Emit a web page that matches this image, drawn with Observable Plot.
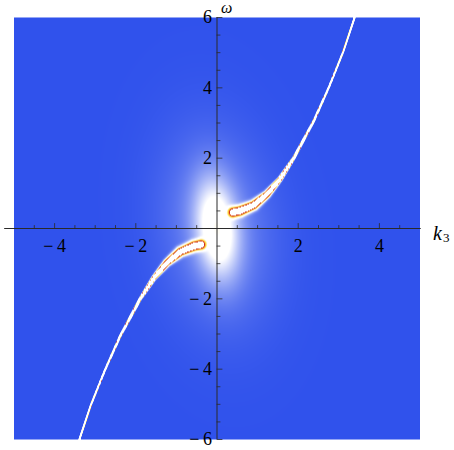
<!DOCTYPE html>
<html>
<head>
<meta charset="utf-8">
<script src="https://cdn.jsdelivr.net/npm/d3@7"></script>
<script src="https://cdn.jsdelivr.net/npm/@observablehq/plot@0.6"></script>
<style>
  body { margin: 0; background: #fff; }
  #chart svg { display: block; }
  #chart svg text { font-family: "Liberation Serif", "Times New Roman", serif; }
</style>
</head>
<body>
<div id="chart"></div>
<script>
// Plot window
const kDomain = [-5, 5];
const omegaDomain = [-6, 6];

// Quasiparticle ridge of the spectral function A(k3, ω), upper branch
// (the lower branch is its mirror image through the origin).
const ridgeK     = [0.40, 0.57, 0.90, 1.23, 1.55, 1.89, 2.38, 2.75, 3.10, 3.39, 3.60];
const ridgeOmega = [0.46, 0.50, 0.66, 0.97, 1.40, 2.00, 3.05, 4.00, 5.00, 6.00, 6.70];
// peak height of the ridge and its width (in screen pixels)
const ridgePeak  = [1.4, 1.55, 1.6, 1.9, 3.0, 5.0, 10, 20, 20, 20, 20];
const ridgeWidth = [3.0, 3.0, 2.7, 1.9, 1.1, 0.62, 0.45, 0.35, 0.34, 0.33, 0.33];

// incoherent background around the origin: [amplitude, k width, ω width]
const hazeCore  = [0.33, 0.50, 1.35];
const hazeOuter = [0.10, 1.30, 2.60];

// intensity → colour
const levelStops = [0, 0.30, 0.42, 0.58, 0.74, 0.88, 1.0, 1.0001, 1000];
const levelColors = ["#3052ec", "#ffffff", "#ffffff", "#ffe24a", "#f39a30", "#d2321f", "#c42a22", "#ffffff", "#ffffff"];

// axes
const xTickValues = [-4, -2, 2, 4];
const xTickLabels = ["\u2212\u20094", "\u2212\u20092", "2", "4"];
const yTickValues = [-6, -4, -2, 2, 4, 6];
const yTickLabels = ["\u2212\u20096", "\u2212\u20094", "\u2212\u20092", "2", "4", "6"];
const minorStep = 0.5;

const W = 454, H = 450;
const margin = {top: 17, right: 34.5, bottom: 11, left: 13.5};
const pxPerK = (W - margin.left - margin.right) / (kDomain[1] - kDomain[0]);
const pxPerOmega = (H - margin.top - margin.bottom) / (omegaDomain[1] - omegaDomain[0]);

// ridge profile: Gaussian in the screen distance d to the ridge line
function ridgeValue(k, w, sign) {
  let best = 0;
  const px = k * pxPerK, py = w * pxPerOmega;
  for (let i = 0; i < ridgeK.length - 1; i++) {
    const ax = sign * ridgeK[i] * pxPerK, ay = sign * ridgeOmega[i] * pxPerOmega;
    const bx = sign * ridgeK[i + 1] * pxPerK, by = sign * ridgeOmega[i + 1] * pxPerOmega;
    const dx = bx - ax, dy = by - ay;
    let t = ((px - ax) * dx + (py - ay) * dy) / (dx * dx + dy * dy);
    t = Math.max(0, Math.min(1, t));
    const ex = px - (ax + t * dx), ey = py - (ay + t * dy);
    const s = ridgeWidth[i] + t * (ridgeWidth[i + 1] - ridgeWidth[i]);
    const pk = ridgePeak[i] + t * (ridgePeak[i + 1] - ridgePeak[i]);
    const v = pk * Math.exp(-(ex * ex + ey * ey) / (2 * s * s));
    if (v > best) best = v;
  }
  return best;
}

function haze(k, w, [a, sk, sw]) {
  const kk = (k + 0.08 * w) / sk;
  const ww = w / sw;
  return a * Math.exp(-(kk * kk) - (ww * ww));
}

function intensity(k, w) {
  return ridgeValue(k, w, 1) + ridgeValue(k, w, -1) + haze(k, w, hazeCore) + haze(k, w, hazeOuter);
}

// tick marks drawn as short strokes from the axis
const tickShape = {
  draw(context, length) {
    context.moveTo(0, 0);
    context.lineTo(0, -length);
  }
};

const xMinor = d3.range(-4.5, 4.51, minorStep).filter(v => Math.abs(v) > 1e-9 && Math.abs(v % 2) > 1e-9);
const xMajor = xTickValues;
const yMinor = d3.range(-5.5, 5.51, minorStep).filter(v => Math.abs(v) > 1e-9 && Math.abs(v % 2) > 1e-9);
const yMajor = yTickValues;

const axisColor = "#2a2a2a";
const serif = "Liberation Serif";

const chart = Plot.plot({
  width: W,
  height: H,
  marginTop: margin.top,
  marginRight: margin.right,
  marginBottom: margin.bottom,
  marginLeft: margin.left,
  x: {domain: kDomain, axis: null},
  y: {domain: omegaDomain, axis: null},
  color: {type: "linear", domain: levelStops, range: levelColors, interpolate: "rgb", clamp: true},
  style: {background: "white", fontFamily: serif, overflow: "visible"},
  marks: [
    Plot.raster({x1: kDomain[0], x2: kDomain[1], y1: omegaDomain[0], y2: omegaDomain[1], fill: intensity, pixelSize: 1}),
    Plot.ruleY([0], {x1: -5.23, x2: 5.03, stroke: axisColor, strokeWidth: 1}),
    Plot.ruleX([0], {y1: omegaDomain[0], y2: omegaDomain[1], stroke: axisColor, strokeWidth: 1}),
    Plot.vector(xMinor, {x: d => d, y: 0, length: 3, rotate: 0, anchor: "start", shape: tickShape, stroke: axisColor, strokeWidth: 0.8}),
    Plot.vector(xMajor, {x: d => d, y: 0, length: 5, rotate: 0, anchor: "start", shape: tickShape, stroke: axisColor, strokeWidth: 0.8}),
    Plot.vector(yMinor, {x: 0, y: d => d, length: 3, rotate: 90, anchor: "start", shape: tickShape, stroke: axisColor, strokeWidth: 0.8}),
    Plot.vector(yMajor, {x: 0, y: d => d, length: 5, rotate: 90, anchor: "start", shape: tickShape, stroke: axisColor, strokeWidth: 0.8}),
    Plot.text(xTickValues, {x: d => d, y: 0, text: (d, i) => xTickLabels[i], dy: 18, fontSize: 18, fontFamily: serif, fill: "#000"}),
    Plot.text(yTickValues, {x: 0, y: d => d, text: (d, i) => yTickLabels[i], dx: -5, textAnchor: "end", fontSize: 18, fontFamily: serif, fill: "#000"}),
    Plot.text(["ω"], {x: 0, y: omegaDomain[1], text: d => d, dx: 4, dy: -10, textAnchor: "start", fontSize: 16, fontStyle: "italic", fontFamily: serif, fill: "#000"}),
    Plot.text(["k"], {x: kDomain[1], y: 0, text: d => d, dx: 13, dy: 5, textAnchor: "start", fontSize: 20, fontStyle: "italic", fontFamily: serif, fill: "#000"}),
    Plot.text(["3"], {x: kDomain[1], y: 0, text: d => d, dx: 23, dy: 9, textAnchor: "start", fontSize: 13, fontFamily: serif, fill: "#000"})
  ]
});

document.getElementById("chart").appendChild(chart);
</script>
</body>
</html>
